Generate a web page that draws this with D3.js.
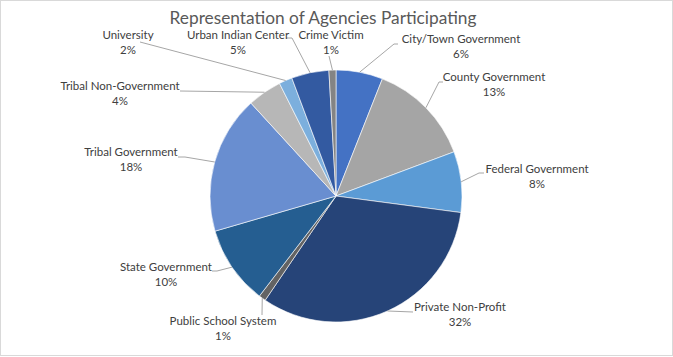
<!DOCTYPE html>
<html>
<head>
<meta charset="utf-8">
<script src="https://cdn.jsdelivr.net/npm/d3@7"></script>
<style>
  html, body { margin: 0; padding: 0; background: #fff; }
  svg { display: block; }
</style>
</head>
<body>
<svg id="chart" width="673" height="357"></svg>
<script>
const categories = ["City/Town Government","County Government","Federal Government","Private Non-Profit","Public School System","State Government","Tribal Government","Tribal Non-Government","University","Urban Indian Center","Crime Victim"];
const values = [6.0, 13.3, 7.8, 32.4, 0.9, 10.1, 17.7, 4.4, 1.7, 4.8, 0.9];
const pctLabels = ["6%","13%","8%","32%","1%","10%","18%","4%","2%","5%","1%"];
const colors = ["#4472C4","#A5A5A5","#5B9BD5","#264478","#636363","#255E91","#698ED0","#B7B7B7","#7CAFDD","#335AA1","#848484"];
const title = "Representation of Agencies Participating";

// layout: label text centre x, first-line baseline y, leader anchor and elbow
const labelLayout = [
  {x:461, y:43, ax:398, ay:44, ex:394},
  {x:494, y:81, ax:443, ay:82, ex:439},
  {x:537, y:173, ax:484, ay:173, ex:479},
  {x:460, y:311, ax:413, ay:312, ex:413},
  {x:223, y:325, ax:262, ay:315, ex:262},
  {x:166, y:271, ax:212, ay:271, ex:217},
  {x:131, y:156, ax:178, ay:157, ex:185},
  {x:120, y:90, ax:180, ay:91, ex:180},
  {x:128, y:39, ax:140, ay:42, ex:140},
  {x:238, y:39, ax:286, ay:38, ex:292},
  {x:331, y:39, ax:329, ay:56, ex:329}
];

const svg = d3.select("#chart");
const W = 673, H = 357;
const cx = 336, cy = 196, r = 126;

svg.append("rect").attr("x",0.5).attr("y",0.5).attr("width",W-1).attr("height",H-2)
  .attr("fill","#fff").attr("stroke","#D9D9D9").attr("stroke-width",1);

svg.append("text").attr("x",323).attr("y",24).attr("text-anchor","middle")
  .attr("font-family","Lato, 'Open Sans', sans-serif").attr("font-weight",400)
  .attr("font-size",17.3).attr("fill","#595959").text(title);

const data = categories.map((c,i)=>({cat:c, value:values[i], pct:pctLabels[i], color:colors[i], lay:labelLayout[i]}));
const pie = d3.pie().value(d=>d.value).sort(null);
const arcs = pie(data);
const arc = d3.arc().innerRadius(0).outerRadius(r);
const edge = d3.arc().innerRadius(r).outerRadius(r);

const g = svg.append("g").attr("transform",`translate(${cx},${cy})`);
g.selectAll("path.slice").data(arcs).enter().append("path")
  .attr("class","slice").attr("d",arc).attr("fill",d=>d.data.color)
  .attr("stroke","#fff").attr("stroke-width",0.6);

// leader lines
svg.selectAll("polyline.leader").data(arcs).enter().append("polyline")
  .attr("class","leader")
  .attr("points", d => {
    const c = edge.centroid(d);
    const p0 = [cx + c[0], cy + c[1]];
    const L = d.data.lay;
    return [p0, [L.ex, L.ay], [L.ax, L.ay]].map(p=>p.join(",")).join(" ");
  })
  .attr("fill","none").attr("stroke","#A6A6A6").attr("stroke-width",1);

const lbl = svg.selectAll("text.lbl").data(arcs).enter().append("text")
  .attr("class","lbl").attr("text-anchor","middle")
  .attr("font-family","Lato, 'Open Sans', sans-serif").attr("font-size",11.5).attr("fill","#404040");
lbl.append("tspan").attr("x",d=>d.data.lay.x).attr("y",d=>d.data.lay.y).text(d=>d.data.cat);
lbl.append("tspan").attr("x",d=>d.data.lay.x).attr("y",d=>d.data.lay.y+15).text(d=>d.data.pct);
</script>
</body>
</html>
